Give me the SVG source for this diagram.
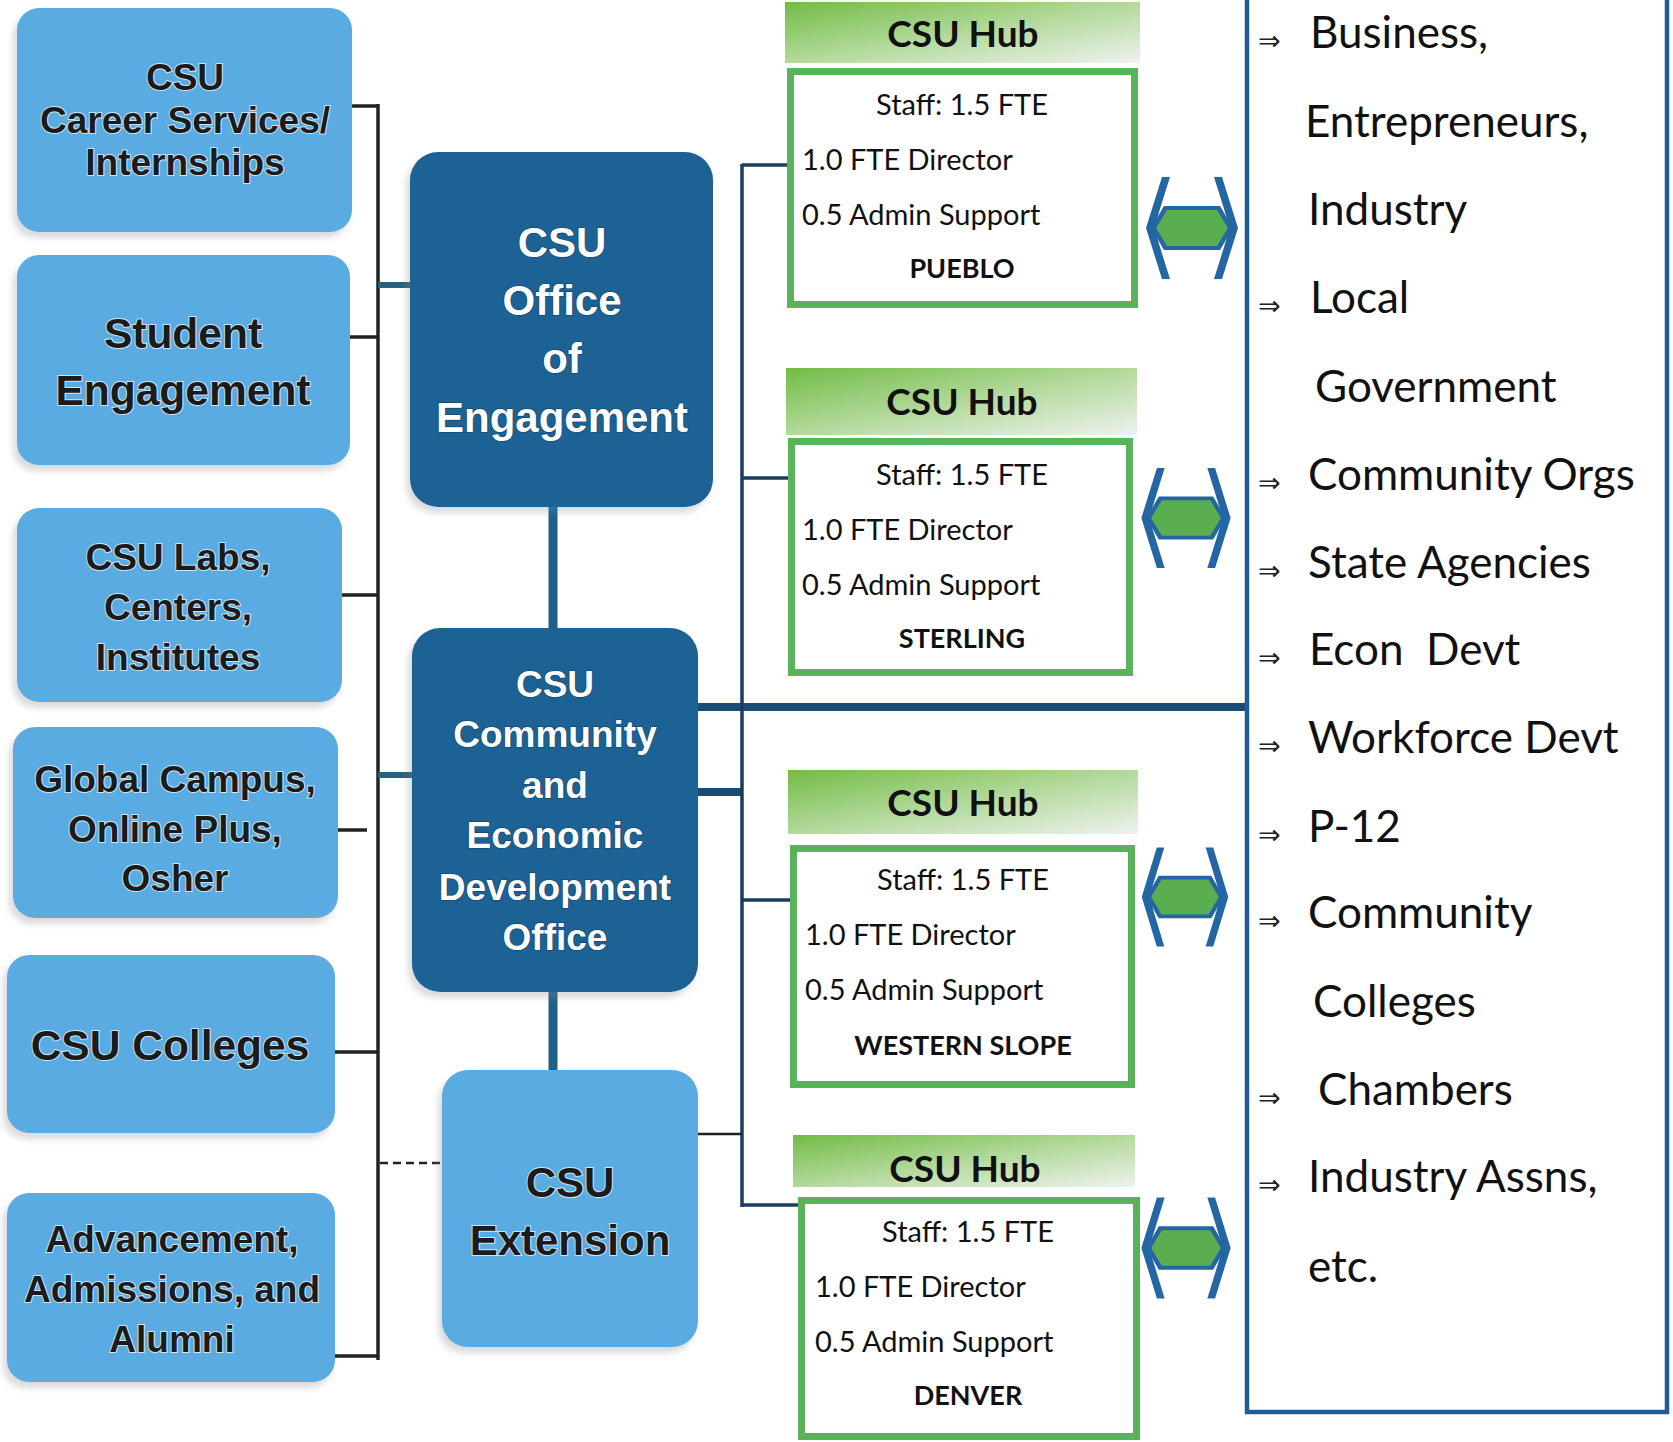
<svg xmlns="http://www.w3.org/2000/svg" width="1673" height="1442" viewBox="0 0 1673 1442">
<style>
.lb{fill:#5aabe1}
.db{fill:#1e6294}
.lt{font-family:"Liberation Sans",Arial,sans-serif;font-weight:bold;fill:#1b1b1b;text-anchor:middle;stroke:#cfe5f5;stroke-width:2;paint-order:stroke}
.dt{font-family:"Liberation Sans",Arial,sans-serif;font-weight:bold;fill:#ffffff;text-anchor:middle;stroke:#174a6e;stroke-width:1.5;paint-order:stroke}
.hh{font-family:Lato,"Liberation Sans",sans-serif;font-weight:bold;font-size:37px;fill:#111;text-anchor:middle}
.ht{font-family:Lato,"Liberation Sans",sans-serif;font-size:29px;fill:#111}
.hc{text-anchor:middle}
.hb{font-weight:bold;font-size:27px}
.hbody{fill:#fff;stroke:#5ab35a;stroke-width:7}
.rl{font-family:Lato,"Liberation Sans",sans-serif;font-size:44px;fill:#111}
.ar{font-family:"DejaVu Sans",sans-serif;font-size:27px;fill:#222}
.blk{stroke:#222;stroke-width:3.5;fill:none}
.bt{stroke:#2b5f82;stroke-width:6;fill:none}
.vb{stroke:#1f5f8a;stroke-width:9;fill:none}
.hl{stroke:#1c4b72;stroke-width:8;fill:none}
.hub{stroke:#1a3d5e;stroke-width:3.5;fill:none}
</style>
<defs>
<linearGradient id="hg" x1="0" y1="0" x2="1" y2="1">
<stop offset="0" stop-color="#72bc46"/>
<stop offset="0.5" stop-color="#b2d99a"/>
<stop offset="1" stop-color="#eef2ee"/>
</linearGradient>
<filter id="sh" x="-10%" y="-10%" width="120%" height="120%">
<feDropShadow dx="-4" dy="6" stdDeviation="3" flood-color="#888" flood-opacity="0.3"/>
</filter>
<g id="dar">
<polygon points="-46,0 -30,-51 -22,-51 -38,0 -22,51 -30,51" fill="#2366a3"/>
<polygon points="46,0 30,-51 22,-51 38,0 22,51 30,51" fill="#2366a3"/>
<polygon points="-41,0 -28,-22 28,-22 41,0 28,22 -28,22" fill="#2366a3"/>
<polygon points="-36,0 -25,-18 25,-18 36,0 25,18 -25,18" fill="#5aae4f"/>
</g>
</defs>
<rect width="1673" height="1442" fill="#ffffff"/>

<g id="connectors">
<line class="blk" x1="378" y1="104" x2="378" y2="1360"/>
<line class="blk" x1="352" y1="106" x2="378" y2="106"/>
<line class="blk" x1="350" y1="337" x2="378" y2="337"/>
<line class="blk" x1="342" y1="595" x2="378" y2="595"/>
<line class="blk" x1="338" y1="830" x2="367" y2="830"/>
<line class="blk" x1="335" y1="1052" x2="378" y2="1052" stroke-width="4.5"/>
<line class="blk" x1="335" y1="1356" x2="378" y2="1356"/>
<line class="bt" x1="378" y1="285" x2="412" y2="285"/>
<line class="bt" x1="378" y1="775" x2="414" y2="775"/>
<line x1="380" y1="1163" x2="442" y2="1163" stroke="#222" stroke-width="2.5" stroke-dasharray="8 5"/>
<line class="vb" x1="553" y1="505" x2="553" y2="630"/>
<line class="vb" x1="553" y1="990" x2="553" y2="1072"/>
<line class="hl" x1="696" y1="707" x2="1247" y2="707"/>
<line class="hl" x1="696" y1="792" x2="742" y2="792"/>
<line class="hub" x1="742" y1="164" x2="742" y2="1207"/>
<line class="hub" x1="742" y1="165" x2="788" y2="165"/>
<line class="hub" x1="742" y1="478" x2="789" y2="478"/>
<line class="hub" x1="742" y1="900" x2="791" y2="900"/>
<line class="hub" x1="742" y1="1205" x2="799" y2="1205"/>
<line x1="680" y1="1134" x2="742" y2="1134" stroke="#222" stroke-width="2.5"/>
</g>

<g id="career">
<rect class="lb" x="17" y="8" width="335" height="224" rx="22" filter="url(#sh)"/>
<text class="lt" font-size="37" x="185" y="90">CSU</text>
<text class="lt" font-size="37" x="185" y="133">Career Services/</text>
<text class="lt" font-size="37" x="185" y="175">Internships</text>
</g>
<g id="student">
<rect class="lb" x="17" y="255" width="333" height="210" rx="22" filter="url(#sh)"/>
<text class="lt" font-size="42.5" x="183" y="348">Student</text>
<text class="lt" font-size="42.5" x="183" y="405">Engagement</text>
</g>
<g id="labs">
<rect class="lb" x="17" y="508" width="325" height="194" rx="22" filter="url(#sh)"/>
<text class="lt" font-size="37" x="178" y="570">CSU Labs,</text>
<text class="lt" font-size="37" x="178" y="620">Centers,</text>
<text class="lt" font-size="37" x="178" y="670">Institutes</text>
</g>
<g id="global">
<rect class="lb" x="13" y="727" width="325" height="191" rx="22" filter="url(#sh)"/>
<text class="lt" font-size="37" x="175" y="792">Global Campus,</text>
<text class="lt" font-size="37" x="175" y="842">Online Plus,</text>
<text class="lt" font-size="37" x="175" y="891">Osher</text>
</g>
<g id="colleges">
<rect class="lb" x="7" y="955" width="328" height="178" rx="22" filter="url(#sh)"/>
<text class="lt" font-size="42.5" x="170" y="1060">CSU Colleges</text>
</g>
<g id="advancement">
<rect class="lb" x="7" y="1193" width="328" height="189" rx="22" filter="url(#sh)"/>
<text class="lt" font-size="37" x="172" y="1252">Advancement,</text>
<text class="lt" font-size="37" x="172" y="1302">Admissions, and</text>
<text class="lt" font-size="37" x="172" y="1352">Alumni</text>
</g>

<g id="office-engagement">
<rect class="db" x="410" y="152" width="303" height="355" rx="28" filter="url(#sh)"/>
<text class="dt" font-size="42" x="562" y="257">CSU</text>
<text class="dt" font-size="42" x="562" y="315">Office</text>
<text class="dt" font-size="42" x="562" y="373">of</text>
<text class="dt" font-size="42" x="562" y="432">Engagement</text>
</g>
<g id="community-econ">
<rect class="db" x="412" y="628" width="286" height="364" rx="28" filter="url(#sh)"/>
<text class="dt" font-size="37" x="555" y="697">CSU</text>
<text class="dt" font-size="37" x="555" y="747">Community</text>
<text class="dt" font-size="37" x="555" y="798">and</text>
<text class="dt" font-size="37" x="555" y="848">Economic</text>
<text class="dt" font-size="37" x="555" y="900">Development</text>
<text class="dt" font-size="37" x="555" y="950">Office</text>
</g>
<g id="extension">
<rect class="lb" x="442" y="1070" width="256" height="277" rx="26" filter="url(#sh)"/>
<text class="lt" font-size="42" x="570" y="1197">CSU</text>
<text class="lt" font-size="42" x="570" y="1255">Extension</text>
</g>

<g id="hub-pueblo">
<rect x="785" y="2" width="355" height="61" fill="url(#hg)"/>
<text class="hh" x="963" y="47">CSU Hub</text>
<rect class="hbody" x="790.5" y="71.5" width="344" height="233"/>
<text class="ht hc" x="962" y="115">Staff: 1.5 FTE</text>
<text class="ht" x="802" y="170">1.0 FTE Director</text>
<text class="ht" x="802" y="225">0.5 Admin Support</text>
<text class="ht hc hb" x="962" y="278">PUEBLO</text>
</g>
<g id="hub-sterling">
<rect x="786" y="368" width="351" height="67" fill="url(#hg)"/>
<text class="hh" x="962" y="415">CSU Hub</text>
<rect class="hbody" x="791.5" y="441.5" width="338" height="231"/>
<text class="ht hc" x="962" y="485">Staff: 1.5 FTE</text>
<text class="ht" x="802" y="540">1.0 FTE Director</text>
<text class="ht" x="802" y="595">0.5 Admin Support</text>
<text class="ht hc hb" x="962" y="648">STERLING</text>
</g>
<g id="hub-western-slope">
<rect x="788" y="770" width="350" height="64" fill="url(#hg)"/>
<text class="hh" x="963" y="816">CSU Hub</text>
<rect class="hbody" x="793.5" y="848.5" width="338" height="236"/>
<text class="ht hc" x="963" y="890">Staff: 1.5 FTE</text>
<text class="ht" x="805" y="945">1.0 FTE Director</text>
<text class="ht" x="805" y="1000">0.5 Admin Support</text>
<text class="ht hc hb" x="963" y="1055">WESTERN SLOPE</text>
</g>
<g id="hub-denver">
<rect x="793" y="1135" width="342" height="52" fill="url(#hg)"/>
<text class="hh" x="965" y="1182">CSU Hub</text>
<rect class="hbody" x="801.5" y="1200.5" width="335" height="236"/>
<text class="ht hc" x="968" y="1242">Staff: 1.5 FTE</text>
<text class="ht" x="815" y="1297">1.0 FTE Director</text>
<text class="ht" x="815" y="1352">0.5 Admin Support</text>
<text class="ht hc hb" x="968" y="1405">DENVER</text>
</g>

<g id="arrows">
<use href="#dar" transform="translate(1192,228)"/>
<use href="#dar" transform="translate(1186,518) scale(0.97,0.98)"/>
<use href="#dar" transform="translate(1185,897) scale(0.94,0.97)"/>
<use href="#dar" transform="translate(1186,1248) scale(0.97,0.99)"/>
</g>

<g id="stakeholders">
<rect x="1247" y="-10" width="420" height="1422" fill="#fff" stroke="#1f5c96" stroke-width="4.5"/>
<text class="ar" x="1258" y="50">⇒</text>
<text class="rl" x="1310" y="48">Business,</text>
<text class="rl" x="1305" y="137">Entrepreneurs,</text>
<text class="rl" x="1308" y="225">Industry</text>
<text class="ar" x="1258" y="315">⇒</text>
<text class="rl" x="1310" y="313">Local</text>
<text class="rl" x="1315" y="402">Government</text>
<text class="ar" x="1258" y="492">⇒</text>
<text class="rl" x="1308" y="490">Community Orgs</text>
<text class="ar" x="1258" y="580">⇒</text>
<text class="rl" x="1308" y="578">State Agencies</text>
<text class="ar" x="1258" y="667">⇒</text>
<text class="rl" x="1309" y="665" xml:space="preserve">Econ  Devt</text>
<text class="ar" x="1258" y="755">⇒</text>
<text class="rl" x="1308" y="753">Workforce Devt</text>
<text class="ar" x="1258" y="844">⇒</text>
<text class="rl" x="1308" y="842">P-12</text>
<text class="ar" x="1258" y="930">⇒</text>
<text class="rl" x="1308" y="928">Community</text>
<text class="rl" x="1313" y="1017">Colleges</text>
<text class="ar" x="1258" y="1107">⇒</text>
<text class="rl" x="1318" y="1105">Chambers</text>
<text class="ar" x="1258" y="1194">⇒</text>
<text class="rl" x="1308" y="1192">Industry Assns,</text>
<text class="rl" x="1308" y="1282">etc.</text>
</g>
</svg>
